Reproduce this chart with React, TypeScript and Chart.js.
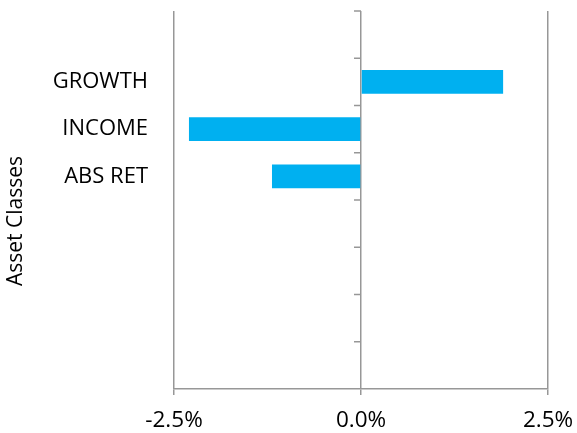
import React, { useEffect, useRef } from "react";
import { Chart, registerables } from "chart.js";

Chart.register(...registerables);

const categories = ["", "GROWTH", "INCOME", "ABS RET", "", "", "", ""];
const values = [null, 0.019, -0.023, -0.0119, null, null, null, null];
const xTicks = [-0.025, 0, 0.025];
const axisTitle = "Asset Classes";

const FONT = "'Open Sans', 'Liberation Sans', sans-serif";
const GRID = "#979797";

const extrasPlugin = {
  id: "extras",
  afterDraw(chart: any) {
    const { ctx, chartArea, scales } = chart;
    const x0 = scales.x.getPixelForValue(0);
    const n = categories.length;
    const step = (chartArea.bottom - chartArea.top) / n;
    ctx.save();
    ctx.strokeStyle = GRID;
    ctx.lineWidth = 1.5;
    for (let i = 0; i < n; i++) {
      const y = chartArea.top + i * step;
      ctx.beginPath();
      ctx.moveTo(x0 - 7, y);
      ctx.lineTo(x0, y);
      ctx.stroke();
    }
    ctx.translate(16.5, 221);
    ctx.rotate(-Math.PI / 2);
    ctx.fillStyle = "#000";
    ctx.font = `21px ${FONT}`;
    ctx.textAlign = "center";
    ctx.textBaseline = "middle";
    ctx.fillText(axisTitle, 0, 0);
    ctx.restore();
  },
};

export default function App() {
  const ref = useRef<HTMLCanvasElement | null>(null);
  useEffect(() => {
    if (!ref.current) return;
    const chart = new Chart(ref.current, {
      type: "bar",
      data: {
        labels: categories,
        datasets: [
          {
            data: values as any,
            backgroundColor: "#00B0F0",
            borderWidth: 0,
            barPercentage: 0.5,
            categoryPercentage: 1,
          },
        ],
      },
      options: {
        indexAxis: "y",
        animation: false,
        responsive: true,
        maintainAspectRatio: false,
        layout: { padding: { top: 11, right: 29, left: 0, bottom: 0 } },
        plugins: { legend: { display: false }, tooltip: { enabled: false } },
        scales: {
          x: {
            type: "linear",
            min: -0.025,
            max: 0.025,
            afterBuildTicks: (s: any) => {
              s.ticks = xTicks.map((v) => ({ value: v }));
            },
            afterFit: (s: any) => {
              s.height = 44;
              s.paddingLeft = 0;
              s.paddingRight = 0;
            },
            grid: { color: GRID, lineWidth: 1.5, tickLength: 6, drawTicks: true },
            border: { color: GRID, width: 1.5 },
            ticks: {
              color: "#000",
              font: { family: FONT, size: 22.5 },
              padding: 12,
              maxRotation: 0,
              callback: (v: any) => (Number(v) * 100).toFixed(1) + "%",
            },
          },
          y: {
            type: "category",
            afterFit: (s: any) => {
              s.width = 174;
              s.paddingTop = 0;
              s.paddingBottom = 0;
            },
            grid: { display: false, drawTicks: false },
            border: { display: false },
            ticks: {
              color: "#000",
              font: { family: FONT, size: 22 },
              padding: 26,
              autoSkip: false,
            },
          },
        },
      },
      plugins: [extrasPlugin],
    });
    return () => chart.destroy();
  }, []);
  return (
    <div style={{ position: "fixed", left: 0, top: 0, width: 577, height: 433 }}>
      <canvas ref={ref} />
    </div>
  );
}
